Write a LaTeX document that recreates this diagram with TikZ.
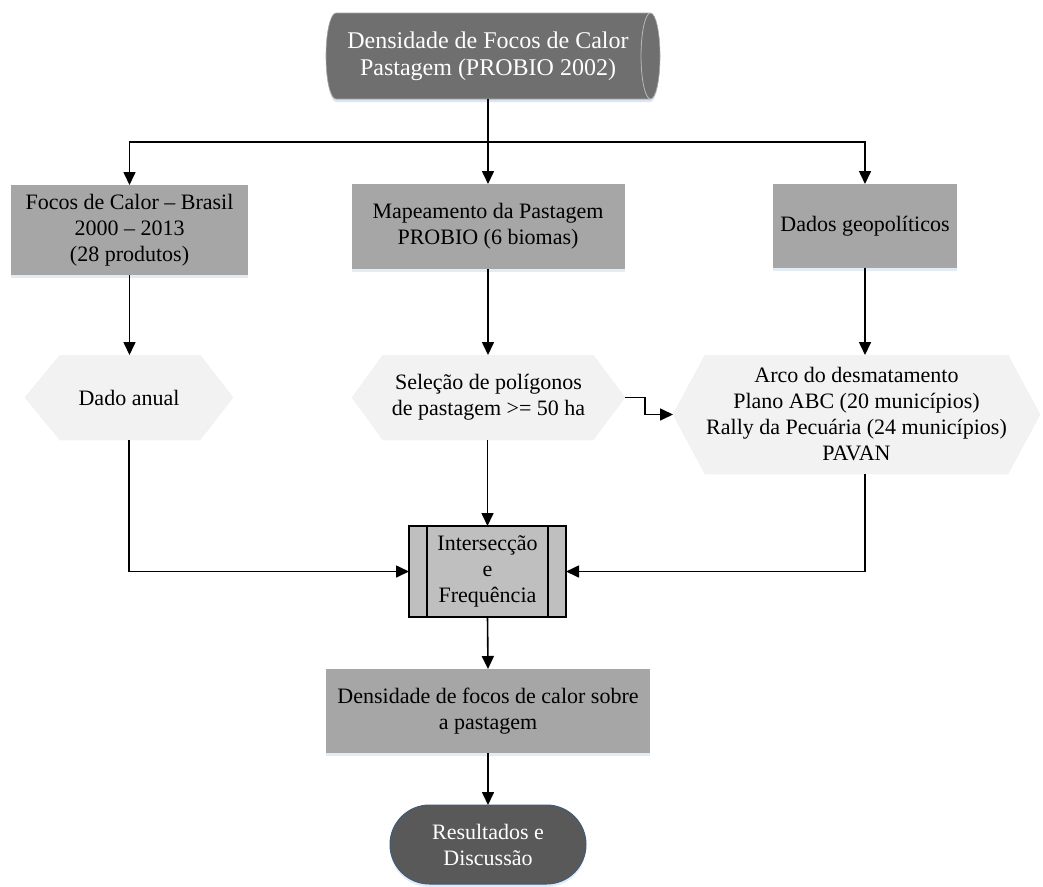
\documentclass[tikz,border=0pt]{standalone}
\usepackage{fontspec}
\setmainfont{Liberation Serif}
\usetikzlibrary{arrows.meta,backgrounds,shadows,shapes.misc}
\definecolor{cylg}{HTML}{6F6F6F}
\definecolor{boxg}{HTML}{A6A6A6}
\definecolor{hexg}{HTML}{F2F2F2}
\definecolor{intg}{HTML}{BFBFBF}
\definecolor{termg}{HTML}{595959}
\definecolor{termb}{HTML}{3F5B7A}
\definecolor{shad}{HTML}{DCE6F2}
\begin{document}
\begin{tikzpicture}[x=1pt,y=1pt,
  txt/.style={font=\fontsize{22}{26}\selectfont, align=center, inner sep=0pt, outer sep=0pt},
  graybox/.style={txt, rectangle, fill=boxg, draw=none,
    drop shadow={shadow xshift=0pt, shadow yshift=-3pt, fill=shad, opacity=0.8}},
  hexnode/.style={txt, rectangle, draw=none},
  arr/.style={line width=1.6pt, -{Triangle[length=13pt,width=12pt]}},
  ln/.style={line width=1.6pt}]
\useasboundingbox (0,0) rectangle (1043,-886);

% nodes
\node[txt, font=\fontsize{24}{27}\selectfont, text=white, minimum width=334pt, minimum height=86pt] (top) at (488,-56)
  {Densidade de Focos de Calor\\Pastagem (PROBIO 2002)};
\node[graybox, minimum width=237pt, minimum height=90pt] (b1) at (129.5,-230)
  {Focos de Calor -- Brasil\\2000 -- 2013\\(28 produtos)};
\node[graybox, minimum width=273pt, minimum height=85pt] (b2) at (488,-226.5)
  {Mapeamento da Pastagem\\PROBIO (6 biomas)};
\node[graybox, minimum width=184pt, minimum height=84pt] (b3) at (865,-226)
  {Dados geopolíticos};
\node[hexnode, minimum width=208pt, minimum height=85pt] (h1) at (129,-397.5) {Dado anual};
\node[hexnode, minimum width=273pt, minimum height=85pt] (h2) at (488.5,-397.5)
  {Seleção de polígonos\\de pastagem >= 50 ha};
\node[hexnode, minimum width=367pt, minimum height=119pt] (h3) at (856.5,-414.5)
  {Arco do desmatamento\\Plano ABC (20 municípios)\\Rally da Pecuária (24 municípios)\\PAVAN};
\node[txt, rectangle, fill=intg, draw=black, line width=1.2pt, minimum width=157pt, minimum height=91pt] (inter) at (487.5,-571.5)
  {Intersecção\\e\\Frequência};
\draw[line width=1.2pt] ([xshift=18pt]inter.north west) -- ([xshift=18pt]inter.south west);
\draw[line width=1.2pt] ([xshift=-18pt]inter.north east) -- ([xshift=-18pt]inter.south east);
\node[graybox, minimum width=324pt, minimum height=84pt] (b4) at (488,-711)
  {Densidade de focos de calor sobre\\a pastagem};
\node[txt, rounded rectangle, fill=termg, draw=termb, line width=1pt, text=white,
  minimum width=196pt, minimum height=79pt,
  drop shadow={shadow xshift=0pt, shadow yshift=-3pt, fill=shad, opacity=0.8}] (term) at (488,-844.5)
  {Resultados e\\Discussão};

% backgrounds: cylinder and hexagons
\begin{scope}[on background layer]
  \fill[shad] (336,-16) -- (650.5,-16) arc[start angle=90, end angle=-90, x radius=9.5, y radius=43]
    -- (336,-102) arc[start angle=270, end angle=90, x radius=10, y radius=43] -- cycle;
  \filldraw[fill=cylg, draw=gray!70, line width=0.6pt] (336,-13) -- (650.5,-13)
    arc[start angle=90, end angle=-90, x radius=9.5, y radius=43]
    -- (336,-99) arc[start angle=270, end angle=90, x radius=10, y radius=43] -- cycle;
  \draw[gray!55, line width=0.8pt] (650.5,-13) arc[start angle=90, end angle=270, x radius=9.5, y radius=43];

  \begin{scope}[yshift=-3pt]
  \fill[shad] (h1.west) -- ([xshift=35pt]h1.north west) -- ([xshift=-33pt]h1.north east) -- (h1.east)
    -- ([xshift=-33pt]h1.south east) -- ([xshift=35pt]h1.south west) -- cycle;
  \fill[shad] (h2.west) -- ([xshift=31pt]h2.north west) -- ([xshift=-32pt]h2.north east) -- (h2.east)
    -- ([xshift=-32pt]h2.south east) -- ([xshift=31pt]h2.south west) -- cycle;
  \fill[shad] (h3.west) -- ([xshift=32pt]h3.north west) -- ([xshift=-32pt]h3.north east) -- (h3.east)
    -- ([xshift=-32pt]h3.south east) -- ([xshift=32pt]h3.south west) -- cycle;
  \end{scope}
  \fill[hexg] (h1.west) -- ([xshift=35pt]h1.north west) -- ([xshift=-33pt]h1.north east) -- (h1.east)
    -- ([xshift=-33pt]h1.south east) -- ([xshift=35pt]h1.south west) -- cycle;
  \fill[hexg] (h2.west) -- ([xshift=31pt]h2.north west) -- ([xshift=-32pt]h2.north east) -- (h2.east)
    -- ([xshift=-32pt]h2.south east) -- ([xshift=31pt]h2.south west) -- cycle;
  \fill[hexg] (h3.west) -- ([xshift=32pt]h3.north west) -- ([xshift=-32pt]h3.north east) -- (h3.east)
    -- ([xshift=-32pt]h3.south east) -- ([xshift=32pt]h3.south west) -- cycle;
\end{scope}

% connectors
\coordinate (j) at (488,-142);
\draw[ln] (top.south) -- (j);
\draw[arr] (j) -| (b1.north);
\draw[arr] (j) -- (b2.north);
\draw[arr] (j) -| (b3.north);
\draw[arr] (b1.south) -- (b1.south |- h1.north);
\draw[arr] (b2.south) -- (b2.south |- h2.north);
\draw[arr] (b3.south) -- (b3.south |- h3.north);
\draw[arr] (h2.east) -- ++(20,0) |- (h3.west);
\draw[arr] (h1.south) |- (inter.west);
\draw[arr] (h2.south -| inter.north) -- (inter.north);
\draw[arr] (b3.south |- h3.south) |- (inter.east);
\draw[arr] (inter.south) -- (b4.north);
\draw[arr] (b4.south) -- (term.north);
\end{tikzpicture}
\end{document}
